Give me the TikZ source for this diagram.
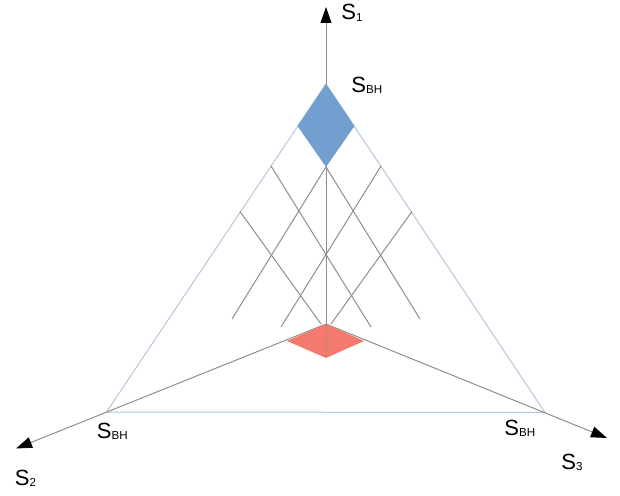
\documentclass[tikz,border=0pt]{standalone}
\usepackage{fontspec}
\setmainfont{Liberation Sans}
\usetikzlibrary{arrows.meta}
\definecolor{Edge}{HTML}{B4C7DC}
\definecolor{Rule}{HTML}{8E8E8E}
\definecolor{BlueFill}{HTML}{729FCF}
\definecolor{RedFill}{HTML}{F47A6E}
\newcommand{\svar}[1]{S\raisebox{-0.6pt}{\fontsize{5.8}{7}\selectfont #1}}

\begin{document}
\begin{tikzpicture}[
  x=0.5pt, y=-0.5pt,
  font=\fontsize{11}{13}\selectfont,
  edge/.style={draw=Edge, line width=0.5pt},
  rule/.style={draw=Rule, line width=0.5pt},
  axis/.style={rule, -{Triangle[length=8pt, width=5.5pt, color=black]}},
  lab/.style={inner sep=0pt, anchor=base west}
]
\useasboundingbox (0,0) rectangle (620,496);

% origin, triangle corners and axis tips
\coordinate (O) at (326,324);
\coordinate (top) at (326,84);
\coordinate (left) at (106.5,412);
\coordinate (right) at (545,412.5);
\coordinate (tip1) at (326,7);
\coordinate (tip2) at (16,448.5);
\coordinate (tip3) at (607,438);

% triangle
\draw[edge] (top) -- (left) -- (right) -- cycle;

% grid lines
\draw[rule] (271,166) -- (371,327);
\draw[rule] (240,211.5) -- (321,324);
\draw[rule] (326,167) -- (420,319);
\draw[rule] (381,166) -- (281,327);
\draw[rule] (412,211.5) -- (331,324);
\draw[rule] (326,167) -- (232,319);

% axes
\draw[axis] (O) -- (tip1);
\draw[axis] (O) -- (tip2);
\draw[axis] (O) -- (tip3);

% regions
\coordinate (bL) at (297.5,126);
\coordinate (bB) at (326,167);
\coordinate (bR) at (354.5,126);
\fill[BlueFill] (top) -- (bL) -- (bB) -- (bR) -- cycle;

\coordinate (rL) at (287,341);
\coordinate (rB) at (326,358);
\coordinate (rR) at (364,341);
\fill[RedFill] (O) -- (rL) -- (rB) -- (rR) -- cycle;
\draw[rule, dash pattern=on 1.5pt off 1.5pt] (O) -- (rB);

% labels
\node[lab] (s1) at (341,20) {\svar{1}};
\node[lab] (s2) at (14.5,485.5) {\svar{2}};
\node[lab] (s3) at (561,469) {\svar{3}};
\node[lab] (bh1) at (351,92.5) {\svar{BH}};
\node[lab] (bh2) at (96.5,438) {\svar{BH}};
\node[lab] (bh3) at (504,435.5) {\svar{BH}};
\end{tikzpicture}
\end{document}
